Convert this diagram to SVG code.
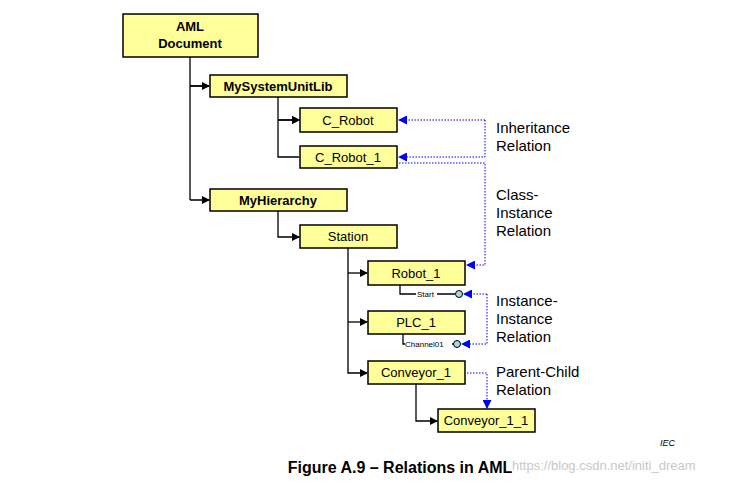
<svg xmlns="http://www.w3.org/2000/svg" width="751" height="483" viewBox="0 0 751 483">
<defs>
<style>
.n{fill:#ffff99;stroke:#000;stroke-width:1.5}
.t{font-family:"Liberation Sans",Arial,sans-serif;font-size:13px;text-anchor:middle;fill:#000}
.b{font-weight:bold}
.c{fill:none;stroke:#000;stroke-width:1.3}
.d{fill:none;stroke:#0000ff;stroke-width:1;stroke-dasharray:1.5 1.5}
.l{font-family:"Liberation Sans",Arial,sans-serif;font-size:15px;fill:#000}
.p{fill:#a8d8d8;stroke:#000;stroke-width:1}
.s{font-family:"Liberation Sans",Arial,sans-serif;font-size:8px;fill:#000}
</style>
<marker id="a" markerWidth="8" markerHeight="8" refX="7" refY="4" orient="auto" markerUnits="userSpaceOnUse"><path d="M0,0L8,4L0,8z" fill="#000"/></marker>
<marker id="ab" markerWidth="9" markerHeight="9" refX="8" refY="4.5" orient="auto" markerUnits="userSpaceOnUse"><path d="M0,0L9,4.5L0,9z" fill="#0000ff"/></marker>
</defs>
<rect width="751" height="483" fill="#fff"/>
<g id="connectors">
<path class="c" d="M190,57V200M190,86H209M190,200H209" marker-end="url(#a)"/>
<path class="c" d="M190,86H209" marker-end="url(#a)"/>
<path class="c" d="M278,97V157H299M278,120H299" marker-end="url(#a)"/>
<path class="c" d="M278,120H299" marker-end="url(#a)"/>
<path class="c" d="M278,211V237H299" marker-end="url(#a)"/>
<path class="c" d="M348,248V373H367" marker-end="url(#a)"/>
<path class="c" d="M348,273H367" marker-end="url(#a)"/>
<path class="c" d="M348,322H367" marker-end="url(#a)"/>
<path class="c" d="M416,384V421H437" marker-end="url(#a)"/>
<path class="c" stroke-width="1" d="M400,285V294H416M437,294H455"/>
<path class="c" stroke-width="1" d="M403,334V344H405M452,344H454"/>
<path class="d" d="M485,120H399" marker-end="url(#ab)"/>
<path class="d" d="M485,120V157H399" marker-end="url(#ab)"/>
<path class="d" d="M399,163H485V265H467" marker-end="url(#ab)"/>
<path class="d" d="M487,294H464" marker-end="url(#ab)"/>
<path class="d" d="M487,294V344H462" marker-end="url(#ab)"/>
<path class="d" d="M467,373H487V408" marker-end="url(#ab)"/>
</g>
<g id="n1"><rect class="n" x="123" y="14" width="135" height="43"/><text class="t b" x="190" y="31">AML</text><text class="t b" x="190" y="48">Document</text></g>
<g id="n2"><rect class="n" x="210" y="75" width="137" height="22"/><text class="t b" x="278" y="91">MySystemUnitLib</text></g>
<g id="n3"><rect class="n" x="300" y="108" width="97" height="24"/><text class="t" x="348" y="125">C_Robot</text></g>
<g id="n4"><rect class="n" x="300" y="146" width="97" height="22"/><text class="t" x="348" y="162">C_Robot_1</text></g>
<g id="n5"><rect class="n" x="210" y="189" width="137" height="22"/><text class="t b" x="278" y="205">MyHierarchy</text></g>
<g id="n6"><rect class="n" x="300" y="225" width="97" height="23"/><text class="t" x="348" y="241">Station</text></g>
<g id="n7"><rect class="n" x="368" y="261" width="97" height="24"/><text class="t" x="416" y="278">Robot_1</text></g>
<g id="n8"><rect class="n" x="368" y="311" width="97" height="23"/><text class="t" x="416" y="327">PLC_1</text></g>
<g id="n9"><rect class="n" x="368" y="361" width="97" height="23"/><text class="t" x="416" y="377">Conveyor_1</text></g>
<g id="n10"><rect class="n" x="438" y="409" width="97" height="23"/><text class="t" x="486" y="425">Conveyor_1_1</text></g>
<g id="ports">
<text class="s" x="417" y="297">Start</text><circle class="p" cx="459" cy="294" r="3.5"/>
<text class="s" x="405" y="347">Channel01</text><circle class="p" cx="457" cy="344" r="3.5"/>
</g>
<g id="labels">
<text class="l" x="496" y="133">Inheritance</text><text class="l" x="496" y="151">Relation</text>
<text class="l" x="496" y="200">Class-</text><text class="l" x="496" y="218">Instance</text><text class="l" x="496" y="236">Relation</text>
<text class="l" x="496" y="306">Instance-</text><text class="l" x="496" y="324">Instance</text><text class="l" x="496" y="342">Relation</text>
<text class="l" x="496" y="377">Parent-Child</text><text class="l" x="496" y="395">Relation</text>
<text x="660" y="446" font-family="Liberation Sans,Arial,sans-serif" font-size="9" font-style="italic">IEC</text>
<text x="400" y="473" font-family="Liberation Sans,Arial,sans-serif" font-size="16" font-weight="bold" text-anchor="middle">Figure A.9 – Relations in AML</text>
<text x="512" y="470" font-family="Liberation Sans,Arial,sans-serif" font-size="13" fill="#c8c8c8">https://blog.csdn.net/initi_dream</text>
</g>
</svg>
